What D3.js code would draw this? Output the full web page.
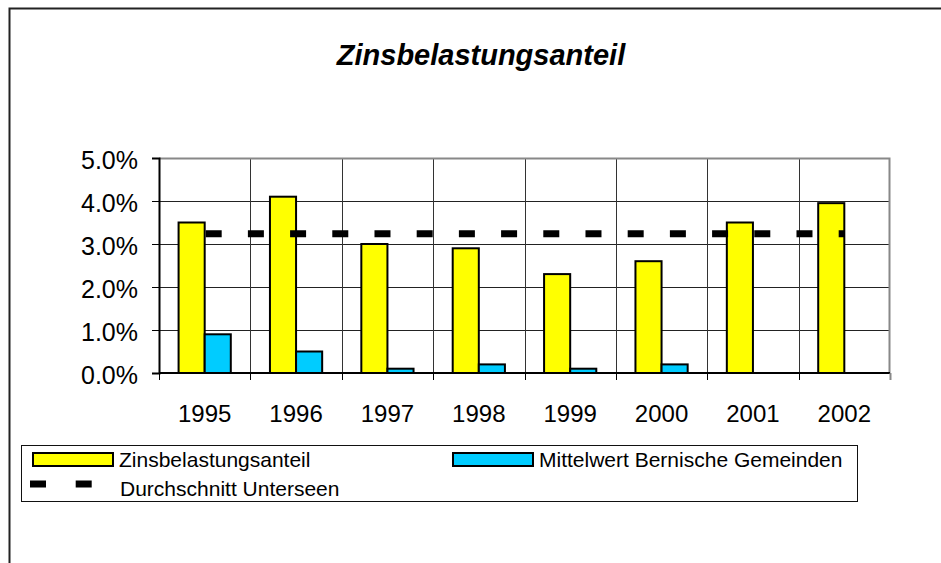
<!DOCTYPE html>
<html>
<head>
<meta charset="utf-8">
<script src="https://cdn.jsdelivr.net/npm/d3@7"></script>
<style>
  body { margin:0; background:#fff; }
  svg { display:block; font-family:"Liberation Sans", Arial, sans-serif; }
</style>
</head>
<body>
<div id="chart"></div>
<script>
// data
const years = ['1995','1996','1997','1998','1999','2000','2001','2002'];
const zinsbelastung = [0.035, 0.041, 0.030, 0.029, 0.023, 0.026, 0.035, 0.0395];
const mittelwertBern = [0.009, 0.005, 0.001, 0.002, 0.001, 0.002, null, null];
const durchschnitt = [0.0324, 0.0324, 0.0324, 0.0324, 0.0324, 0.0324, 0.0324, 0.0324];
const yTicks = [0, 0.01, 0.02, 0.03, 0.04, 0.05];
const seriesNames = ['Zinsbelastungsanteil', 'Mittelwert Bernische Gemeinden', 'Durchschnitt Unterseen'];
const colors = ['#ffff00', '#00ccff'];

const W = 941, H = 563;
const plot = { left:159, right:890, top:158, bottom:373 };

const svg = d3.select('#chart').append('svg')
  .attr('width', W).attr('height', H);

svg.append('rect').attr('width', W).attr('height', H).attr('fill', '#fff');

// outer frame (runs off the right/bottom)
svg.append('rect')
  .attr('x', 9.5).attr('y', 8.5).attr('width', W + 20).attr('height', H + 20)
  .attr('fill', 'none').attr('stroke', '#222').attr('stroke-width', 2);

// title
svg.append('text')
  .attr('x', 481).attr('y', 65)
  .attr('text-anchor', 'middle')
  .attr('font-size', 29).attr('font-weight', 'bold').attr('font-style', 'italic')
  .text('Zinsbelastungsanteil');

const x = d3.scaleBand().domain(years).range([plot.left, plot.right]).padding(0);
const x1 = d3.scaleBand().domain([0, 1]).range([0, x.bandwidth()])
  .paddingInner(0).paddingOuter(0.75);
const y = d3.scaleLinear().domain([0, 0.05]).range([plot.bottom, plot.top]);

// horizontal gridlines
svg.append('g')
  .selectAll('line')
  .data(yTicks.filter(t => t > 0 && t < 0.05))
  .enter().append('line')
  .attr('x1', plot.left).attr('x2', plot.right)
  .attr('y1', d => Math.round(y(d)) + 0.5).attr('y2', d => Math.round(y(d)) + 0.5)
  .attr('stroke', '#222').attr('stroke-width', 1);

// vertical gridlines at category boundaries
svg.append('g')
  .selectAll('line')
  .data(years.slice(1))
  .enter().append('line')
  .attr('x1', d => Math.round(x(d)) + 0.5).attr('x2', d => Math.round(x(d)) + 0.5)
  .attr('y1', plot.top).attr('y2', plot.bottom)
  .attr('stroke', '#333').attr('stroke-width', 1);

// plot frame top/right (gray)
svg.append('path')
  .attr('d', `M${plot.left},${plot.top + 0.5}H${plot.right - 0.5}V${plot.bottom}`)
  .attr('fill', 'none').attr('stroke', '#888').attr('stroke-width', 2);

// bars
const groups = svg.append('g')
  .selectAll('g')
  .data(years)
  .enter().append('g')
  .attr('transform', d => `translate(${x(d)},0)`);

[zinsbelastung, mittelwertBern].forEach((vals, si) => {
  groups.filter((d, i) => vals[i] != null)
    .append('rect')
    .attr('x', x1(si))
    .attr('width', x1.bandwidth())
    .attr('y', d => y(vals[years.indexOf(d)]))
    .attr('height', d => plot.bottom - y(vals[years.indexOf(d)]))
    .attr('fill', colors[si])
    .attr('stroke', '#000').attr('stroke-width', 2);
});

// average line
const line = d3.line()
  .x((d, i) => x(years[i]) + x.bandwidth() / 2)
  .y(d => y(d));
svg.append('path')
  .datum(durchschnitt)
  .attr('d', line)
  .attr('fill', 'none')
  .attr('stroke', '#000').attr('stroke-width', 7)
  .attr('stroke-dasharray', '16 26.2')
  .attr('stroke-dashoffset', -1);

// y axis
const yAxis = svg.append('g')
  .attr('transform', `translate(${plot.left},0)`)
  .call(d3.axisLeft(y).tickValues(yTicks).tickSize(7).tickPadding(14)
    .tickFormat(d3.format('.1%')));
yAxis.select('.domain').attr('stroke', '#000').attr('stroke-width', 2);
yAxis.selectAll('.tick line').attr('stroke', '#000');
yAxis.selectAll('.tick text')
  .attr('font-size', 25).attr('font-family', '"Liberation Sans", Arial, sans-serif')
  .attr('fill', '#000').attr('dy', '0.42em');

// x axis: ticks at category boundaries, labels centred
const boundaries = years.map(d => x(d)).concat([plot.right]);
svg.append('line')
  .attr('x1', plot.left).attr('x2', plot.right)
  .attr('y1', plot.bottom).attr('y2', plot.bottom)
  .attr('stroke', '#000').attr('stroke-width', 2);
svg.append('g')
  .selectAll('line')
  .data(boundaries)
  .enter().append('line')
  .attr('x1', d => Math.round(d) + 0.5).attr('x2', d => Math.round(d) + 0.5)
  .attr('y1', plot.bottom).attr('y2', plot.bottom + 7)
  .attr('stroke', (d, i) => i === boundaries.length - 1 ? '#888' : '#000')
  .attr('stroke-width', (d, i) => i === boundaries.length - 1 ? 2 : 1);
svg.append('g')
  .selectAll('text')
  .data(years)
  .enter().append('text')
  .attr('x', d => x(d) + x.bandwidth() / 2)
  .attr('y', plot.bottom + 49)
  .attr('text-anchor', 'middle')
  .attr('font-size', 24)
  .text(d => d);

// legend
const legend = svg.append('g');
legend.append('rect')
  .attr('x', 21.5).attr('y', 445.5).attr('width', 836).attr('height', 56)
  .attr('fill', '#fff').attr('stroke', '#111').attr('stroke-width', 1);

const swatches = [
  { x: 33, y: 453, tx: 119, ty: 467, si: 0 },
  { x: 453, y: 453, tx: 539, ty: 467, si: 1 }
];
swatches.forEach(s => {
  legend.append('rect')
    .attr('x', s.x).attr('y', s.y).attr('width', 80).attr('height', 13)
    .attr('fill', colors[s.si]).attr('stroke', '#000').attr('stroke-width', 2);
  legend.append('text')
    .attr('x', s.tx).attr('y', s.ty)
    .attr('font-size', 21)
    .text(seriesNames[s.si]);
});
legend.append('line')
  .attr('x1', 30).attr('x2', 92).attr('y1', 484).attr('y2', 484)
  .attr('stroke', '#000').attr('stroke-width', 7)
  .attr('stroke-dasharray', '16 29.7');
legend.append('text')
  .attr('x', 120).attr('y', 496)
  .attr('font-size', 21)
  .text(seriesNames[2]);
</script>
</body>
</html>
